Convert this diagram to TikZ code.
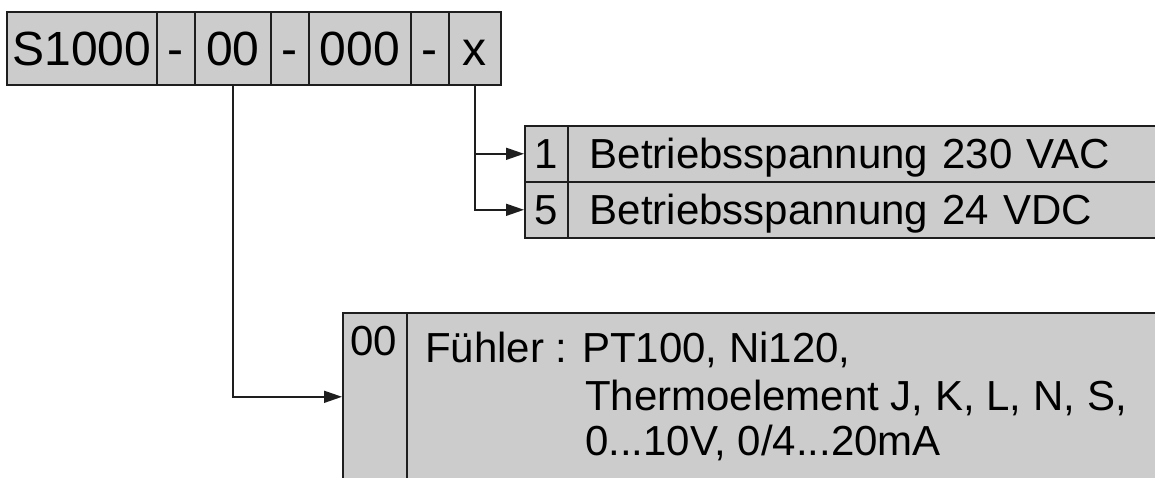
\documentclass[tikz,border=0pt]{standalone}
\usepackage{fontspec}
\setmainfont{Liberation Sans}
\usetikzlibrary{arrows.meta}
\definecolor{boxgray}{RGB}{204,204,204}
\definecolor{edge}{RGB}{30,30,30}
\begin{document}
\begin{tikzpicture}[x=1pt,y=-1pt,
  cell/.style={draw=edge, line width=1.6pt, fill=boxgray, inner sep=0pt, anchor=north west},
  topcell/.style={cell, minimum height=73pt, font=\fontsize{48}{56}\selectfont, text height=34.5pt, text depth=0pt},
  rowcell/.style={cell, minimum height=56pt, font=\fontsize{42}{50}\selectfont, text height=30pt, text depth=0pt},
  rowtext/.style={rowcell, text width=580pt, inner xsep=22pt, align=left},
  conn/.style={draw=edge, line width=1.6pt, -{Triangle[length=18pt,width=12pt]}},
  lbl/.style={anchor=base west, inner sep=0pt, font=\fontsize{42}{50}\selectfont}
]
\clip (0,0) rectangle (1155,477);
\fill[white] (0,0) rectangle (1155,477);

% top code row
\node[topcell, minimum width=150pt] (cs) at (6,11) {S1000};
\node[topcell, minimum width=38pt] (d1) at (156,11) {-};
\node[topcell, minimum width=76pt] (c00) at (194,11) {00};
\node[topcell, minimum width=38pt] (d2) at (270,11) {-};
\node[topcell, minimum width=102pt] (c000) at (308,11) {000};
\node[topcell, minimum width=38pt] (d3) at (410,11) {-};
\node[topcell, minimum width=52pt] (cx) at (448,11) {x};

% voltage options
\node[rowcell, minimum width=43pt] (n1) at (524,125) {1};
\node[rowtext] (t1) at (567,125) {Betriebsspannung 230 VAC};
\node[rowcell, minimum width=43pt] (n5) at (524,181) {5};
\node[rowtext] (t5) at (567,181) {Betriebsspannung 24 VDC};

% sensor option
\node[cell, minimum width=64pt, minimum height=168pt] (n00) at (342,312) {};
\node[cell, minimum width=800pt, minimum height=168pt] (t00) at (406,312) {};
\node[lbl, anchor=base] (l00) at (374,355) {00};
\node[lbl] (f1) at (425,362) {Fühler :};
\node[lbl] (f2) at (582,362) {PT100, Ni120,};
\node[lbl] (f3) at (585,410) {Thermoelement J, K, L, N, S,};
\node[lbl] (f4) at (585,455) {0...10V, 0/4...20mA};

% connectors
\draw[conn] (cx.south) |- (n1.west);
\draw[conn] (cx.south) |- (n5.west);
\draw[conn] (c00.south) |- (n00.west);
\end{tikzpicture}
\end{document}
